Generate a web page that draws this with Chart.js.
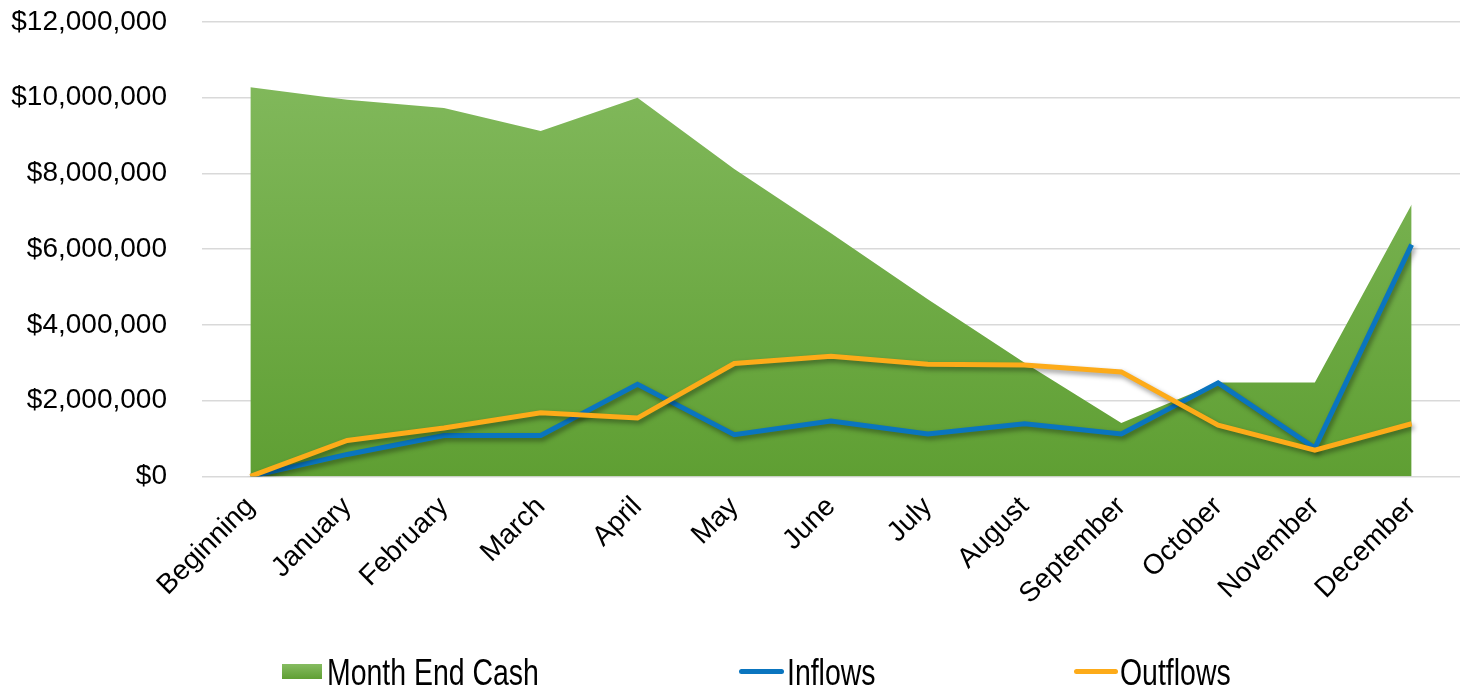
<!DOCTYPE html>
<html>
<head>
<meta charset="utf-8">
<script src="https://cdn.jsdelivr.net/npm/chart.js@4"></script>
<style>
  html, body { margin: 0; padding: 0; background: #fff; }
  #wrap { position: relative; width: 1468px; height: 686px; overflow: hidden; }
  #chart01 { position: absolute; left: 0; top: 0; }
  .lg { position: absolute; top: 655px; height: 40px; font-family: 'Liberation Sans', Arial, sans-serif; font-size: 36px; line-height: 36px; color: #000; white-space: nowrap; }
  .lg span.txt { position: absolute; top: 0; display: inline-block; transform: scaleX(0.79); transform-origin: left top; }
  .lg i { position: absolute; display: block; }
</style>
</head>
<body>
<div id="wrap">
  <canvas id="chart01" width="1468" height="686"></canvas>
  <div class="lg" style="left:282px"><i id="lgCash" style="left:0;top:9px;width:40px;height:15px;"></i><span class="txt" style="left:45px">Month End Cash</span></div>
  <div class="lg" style="left:739px"><i style="left:0;top:14px;width:45px;height:5px;border-radius:3px;background:#0a75bf"></i><span class="txt" style="left:48px">Inflows</span></div>
  <div class="lg" style="left:1074px"><i style="left:0;top:14px;width:44px;height:5px;border-radius:3px;background:#fdab19"></i><span class="txt" style="left:46px">Outflows</span></div>
</div>
<script>
// 月ごとのキャッシュ推移
var labels = ['Beginning', 'January', 'February', 'March', 'April', 'May', 'June',
  'July', 'August', 'September', 'October', 'November', 'December'];
var monthEndCash = [10280000, 9950000, 9730000, 9120000, 10000000, 8120000, 6420000,
  4680000, 3000000, 1410000, 2480000, 2480000, 7180000];
var inflows = [0, 580000, 1080000, 1080000, 2430000, 1100000, 1460000,
  1120000, 1390000, 1120000, 2470000, 750000, 6120000];
var outflows = [0, 950000, 1280000, 1680000, 1540000, 2980000, 3170000,
  2960000, 2940000, 2760000, 1350000, 690000, 1390000];
var seriesNames = ['Month End Cash', 'Inflows', 'Outflows'];
var yTicks = [0, 2000000, 4000000, 6000000, 8000000, 10000000, 12000000];

document.getElementById('lgCash').style.background = 'linear-gradient(#86bc61, #5f9f33)';

function areaFill(context) {
  var area = context.chart.chartArea;
  if (!area) return '#6eae44';
  var g = context.chart.ctx.createLinearGradient(0, area.top, 0, area.bottom);
  g.addColorStop(0, '#86bc61');
  g.addColorStop(1, '#5f9f33');
  return g;
}

// 線とエリアに影をつける
var shadowPlugin = {
  id: 'shadow',
  beforeDatasetDraw: function(chart, args) {
    var ctx = chart.ctx;
    ctx.save();
    ctx.shadowColor = args.index === 0 ? 'rgba(0,0,0,0.25)' : 'rgba(0,0,0,0.4)';
    ctx.shadowBlur = 5;
    ctx.shadowOffsetX = 2;
    ctx.shadowOffsetY = 3;
  },
  afterDatasetDraw: function(chart) {
    chart.ctx.restore();
  }
};

var font = { family: "'Liberation Sans', Arial, sans-serif", size: 28 };

var ctx = document.getElementById('chart01');
var myChart = new Chart(ctx, {
  type: 'line',
  data: {
    labels: labels,
    datasets: [{
      label: seriesNames[0],
      data: monthEndCash,
      backgroundColor: areaFill,
      borderWidth: 0,
      borderColor: 'rgba(0,0,0,0)',
      fill: 'origin',
      pointRadius: 0,
      tension: 0,
      order: 3
    }, {
      label: seriesNames[1],
      data: inflows,
      borderColor: '#0a75bf',
      borderWidth: 5,
      fill: false,
      pointRadius: 0,
      tension: 0,
      order: 2
    }, {
      label: seriesNames[2],
      data: outflows,
      borderColor: '#fdab19',
      borderWidth: 5,
      fill: false,
      pointRadius: 0,
      tension: 0,
      order: 1
    }]
  },
  plugins: [shadowPlugin],
  options: {
    responsive: false,
    animation: false,
    layout: { padding: { left: 10, top: 22, right: 8, bottom: 69 } },
    plugins: {
      legend: { display: false },
      tooltip: { enabled: false }
    },
    scales: {
      x: {
        offset: true,
        grid: { display: false },
        border: { display: false },
        afterFit: function(axis) {
          axis.paddingLeft = 0;
        },
        ticks: {
          color: '#000',
          font: font,
          minRotation: 45,
          maxRotation: 45,
          padding: 6,
          autoSkip: false
        }
      },
      y: {
        min: 0,
        max: 12000000,
        afterBuildTicks: function(axis) {
          axis.ticks = yTicks.map(function(v) { return { value: v }; });
        },
        afterFit: function(axis) {
          axis.width = 192;
          axis.paddingTop = 0;
          axis.paddingBottom = 0;
        },
        grid: { color: '#d9d9d9', lineWidth: 1.5, drawTicks: false },
        border: { display: false },
        ticks: {
          color: '#000',
          font: font,
          padding: 35,
          callback: function(v) { return '$' + Number(v).toLocaleString('en-US'); }
        }
      }
    }
  }
});
</script>
</body>
</html>
